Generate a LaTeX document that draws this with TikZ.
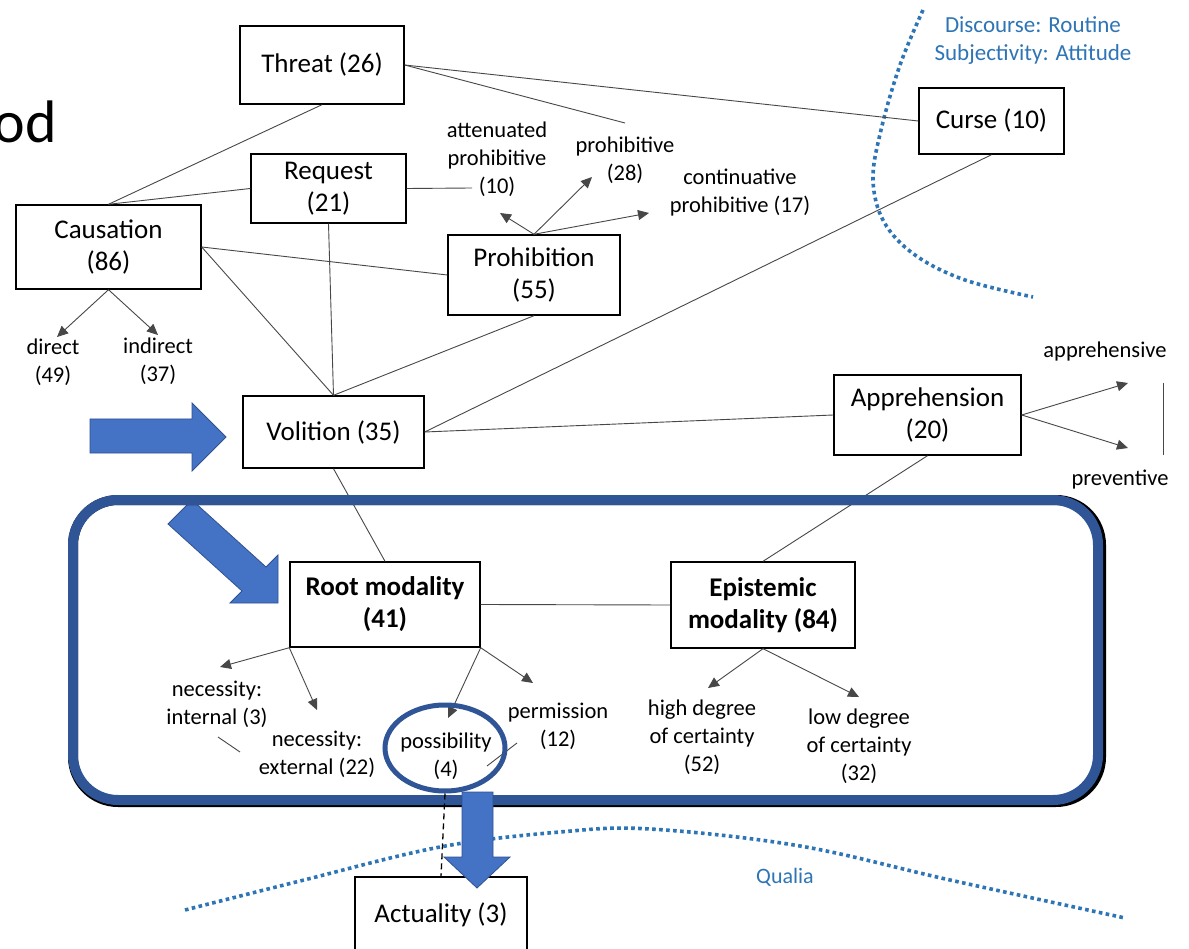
\documentclass[tikz,border=0pt]{standalone}
\usepackage{fontspec}
\setmainfont{Carlito}
\usetikzlibrary{arrows.meta,shapes.geometric}
\definecolor{frameblue}{HTML}{2F5597}
\definecolor{arrowblue}{HTML}{4472C4}
\definecolor{arrowedge}{HTML}{2F528F}
\definecolor{dotblue}{HTML}{2E75B6}
\begin{document}
\begin{tikzpicture}[x=1pt,y=-1pt,
  box/.style={draw,fill=white,line width=1.4pt,inner sep=0pt,align=center,font=\fontsize{27}{32}\selectfont},
  boldbox/.style={box,font=\fontsize{27}{32}\selectfont\bfseries},
  lbl/.style={align=center,inner sep=1pt,font=\fontsize{22.5}{28}\selectfont},
  bluetext/.style={align=center,inner sep=0pt,text=dotblue,font=\fontsize{23}{28}\selectfont},
  conn/.style={draw=black!72,line width=0.9pt},
  arr/.style={conn,-{Triangle[length=11pt,width=10pt]}},
  bigarrow/.style={fill=arrowblue,draw=arrowedge,line width=0.8pt},
  dotline/.style={draw=dotblue,line width=3.6pt,dash pattern=on 3.6pt off 3.4pt}]
\fill[white] (0,0) rectangle (1189,949);
\useasboundingbox (0,0) rectangle (1189,949);

% title fragment
\node[anchor=base east,inner sep=0pt,font=\fontsize{60}{60}\selectfont] (title) at (57,143) {od};

% dotted curves
\draw[dotline] plot[smooth,tension=0.6] coordinates {(923,10) (900,65) (881,130) (873,180) (884,222) (915,255) (965,280) (1033,297)};
\draw[dotline] plot[smooth,tension=0.6] coordinates {(185,910) (300,881) (440,847) (560,832) (650,829) (800,846) (950,880) (1125,918)};
\node[bluetext] (disc) at (1033,41) {Discourse: Routine\\Subjectivity: Attitude};
\node[bluetext,font=\fontsize{22}{28}\selectfont] (qualia) at (785,877) {Qualia};

% boxes
\node[box,minimum width=164pt,minimum height=78pt] (threat) at (322,65) {Threat (26)};
\node[box,minimum width=155pt,minimum height=69pt] (request) at (328.5,188.5) {Request\\(21)};
\node[box,minimum width=185pt,minimum height=84pt] (causation) at (108.5,247) {Causation\\(86)};
\node[box,minimum width=172pt,minimum height=80pt] (prohibition) at (534,275) {Prohibition\\(55)};
\node[box,minimum width=145pt,minimum height=66pt] (curse) at (991.5,121) {Curse (10)};
\node[box,minimum width=181pt,minimum height=72pt] (volition) at (333.5,432) {Volition (35)};
\node[box,minimum width=187pt,minimum height=80pt] (apprehension) at (927.5,415) {Apprehension\\(20)};
\node[boldbox,minimum width=190pt,minimum height=85pt] (root) at (385,604.5) {Root modality\\(41)};
\node[boldbox,minimum width=184pt,minimum height=86pt] (epistemic) at (763,605) {Epistemic\\modality (84)};
\node[box,minimum width=172pt,minimum height=76pt] (actuality) at (441,915) {Actuality (3)};

% labels
\node[lbl] (att) at (497,159) {attenuated\\prohibitive\\(10)};
\node[lbl] (proh) at (625,160) {prohibitive\\(28)};
\node[lbl] (cont) at (740,193) {continuative\\prohibitive (17)};
\node[lbl] (direct) at (53,362) {direct\\(49)};
\node[lbl] (indirect) at (158,361) {indirect\\(37)};
\node[lbl] (appr) at (1105,352) {apprehensive};
\node[lbl] (prev) at (1120,480) {preventive};
\node[lbl] (necint) at (217,704) {necessity:\\internal (3)};
\node[lbl] (necext) at (317,754) {necessity:\\external (22)};
\node[lbl] (poss) at (446,756) {possibility\\(4)};
\node[lbl] (perm) at (558,726) {permission\\(12)};
\node[lbl] (high) at (702,737) {high degree\\of certainty\\(52)};
\node[lbl] (low) at (859,746) {low degree\\of certainty\\(32)};

% coordinates
\coordinate (attend) at (472,188);
\coordinate (prohend) at (625,123);
\coordinate (pA) at (500,213);
\coordinate (pB) at (592,177);
\coordinate (pC) at (649,213);
\coordinate (cD) at (57,337);
\coordinate (cI) at (158,335);
\coordinate (aA) at (1128,383);
\coordinate (aP) at (1128,448);
\coordinate (rN1) at (220,667);
\coordinate (rN2) at (317,710);
\coordinate (rP1) at (448,718);
\coordinate (rP2) at (533,683);
\coordinate (eH) at (708,688);
\coordinate (eL) at (859,697);
\coordinate (v1) at (1163,383);
\coordinate (v2) at (1163,455);
\coordinate (s1a) at (218,737);
\coordinate (s1b) at (240,752);
\coordinate (s2a) at (487,766);
\coordinate (s2b) at (517,743);

% connectors
\draw[conn] (threat.south) -- (causation.north);
\draw[conn] (request.west) -- (causation.north);
\draw[conn] (causation.east) -- (prohibition.west);
\draw[conn] (causation.east) -- (volition.north);
\draw[conn] (request.south) -- (volition.north);
\draw[conn] (prohibition.south) -- (volition.north);
\draw[conn] (request.east) -- (attend);
\draw[conn] (threat.east) -- (curse.west);
\draw[conn] (threat.east) -- (prohend);
\draw[conn] (curse.south) -- (volition.east);
\draw[conn] (volition.east) -- (apprehension.west);
\draw[conn] (volition.south) -- (root.north);
\draw[conn] (root.east) -- (epistemic.west);
\draw[conn] (apprehension.south) -- (epistemic.north);
\draw[conn] (v1) -- (v2);
\draw[conn] (s1a) -- (s1b);
\draw[conn] (s2a) -- (s2b);

% arrows
\draw[arr] (causation.south) -- (cD);
\draw[arr] (causation.south) -- (cI);
\draw[arr] (prohibition.north) -- (pA);
\draw[arr] (prohibition.north) -- (pB);
\draw[arr] (prohibition.north) -- (pC);
\draw[arr] (apprehension.east) -- (aA);
\draw[arr] (apprehension.east) -- (aP);
\draw[arr] (root.south west) -- (rN1);
\draw[arr] (root.south west) -- (rN2);
\draw[arr] (root.south east) -- (rP1);
\draw[arr] (root.south east) -- (rP2);
\draw[arr] (epistemic.south) -- (eH);
\draw[arr] (epistemic.south) -- (eL);

% big blue arrows
\draw[bigarrow] (90,419) -- (192,419) -- (192,403) -- (226,437) -- (192,471) -- (192,453) -- (90,453) -- cycle;
\draw[bigarrow] (168,524) -- (192,500) -- (266,567) -- (278,555) -- (278,603) -- (230,603) -- (242,591) -- cycle;

% frame with slight shadow on right/bottom
\draw[black,line width=10pt,rounded corners=45pt] (73,500) rectangle (1101,802);
\draw[frameblue,line width=10pt,rounded corners=45pt] (73,500) rectangle (1098,800);

% ellipse and dashed link
\node[draw=frameblue,line width=5pt,ellipse,minimum width=120pt,minimum height=86pt,inner sep=0pt] (possell) at (445,748) {};
\draw[draw=black,line width=1.3pt,dash pattern=on 6pt off 4pt] (possell.south) -- (actuality.north);

% down arrow
\draw[bigarrow] (462,792) -- (493,792) -- (493,857) -- (510,857) -- (477,888) -- (444,857) -- (462,857) -- cycle;
\end{tikzpicture}
\end{document}
